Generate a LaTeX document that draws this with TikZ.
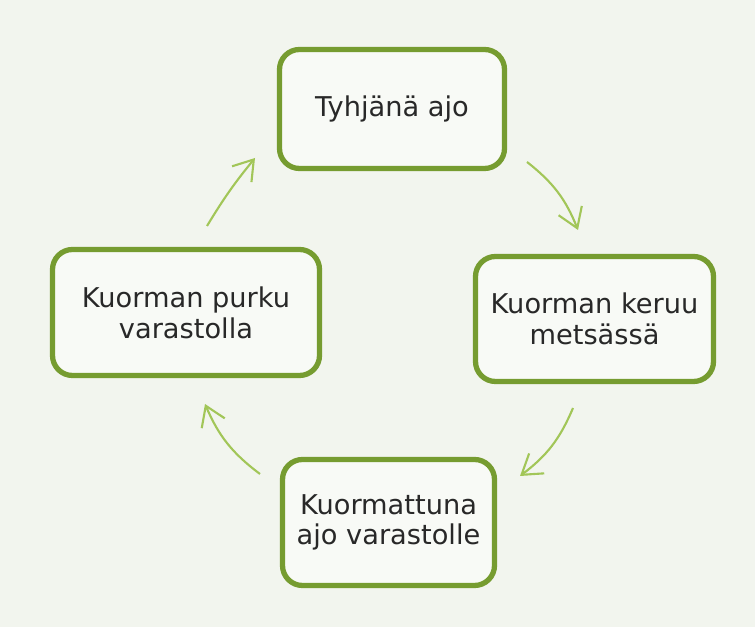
\documentclass[tikz,border=0pt]{standalone}
\usepackage{fontspec}
\setmainfont{DejaVu Sans}
\usepackage{xcolor}
\usepackage{tikz}
\usetikzlibrary{arrows.meta}
\definecolor{paper}{RGB}{242,245,238}
\definecolor{boxgreen}{RGB}{118,156,48}
\definecolor{arrowgreen}{RGB}{162,198,88}
\definecolor{ink}{RGB}{40,40,40}

\begin{document}
\begin{tikzpicture}[
  stage/.style={draw=boxgreen,line width=3pt,rounded corners=0.4cm,fill=white!50!paper,
    align=center,text=ink,font=\fontsize{15.5}{17.5}\selectfont,inner sep=0pt},
  cyc/.style={draw=arrowgreen,line width=1.2pt,-{Straight Barb[length=0.38cm,width=0.5cm]}}]
\fill[paper](0,0)rectangle(15.1,12.54);
\useasboundingbox(0,0)rectangle(15.1,12.54);
\node[stage,minimum width=4.5cm,minimum height=2.38cm](tyhja)at(7.84,10.36){Tyhjänä ajo};
\node[stage,minimum width=4.76cm,minimum height=2.5cm](keruu)at(11.89,6.16){Kuorman keruu\\metsässä};
\node[stage,minimum width=4.24cm,minimum height=2.52cm](ajo)at(7.77,2.09){Kuormattuna\\ajo varastolle};
\node[stage,minimum width=5.34cm,minimum height=2.52cm](purku)at(3.72,6.29){Kuorman purku\\varastolla};
% arrow ends between the boxes
\coordinate(a1)at(4.14,8.02);\coordinate(b1)at(5.10,9.38);
\coordinate(a2)at(10.54,9.30);\coordinate(b2)at(11.56,7.94);
\coordinate(a3)at(11.46,4.38);\coordinate(b3)at(10.40,3.02);
\coordinate(a4)at(5.20,3.06);\coordinate(b4)at(4.10,4.46);
\draw[cyc](a1)to[bend left=4](b1);
\draw[cyc](a2)to[bend left=15](b2);
\draw[cyc](a3)to[bend left=15](b3);
\draw[cyc](a4)to[bend left=15](b4);
\end{tikzpicture}
\end{document}
